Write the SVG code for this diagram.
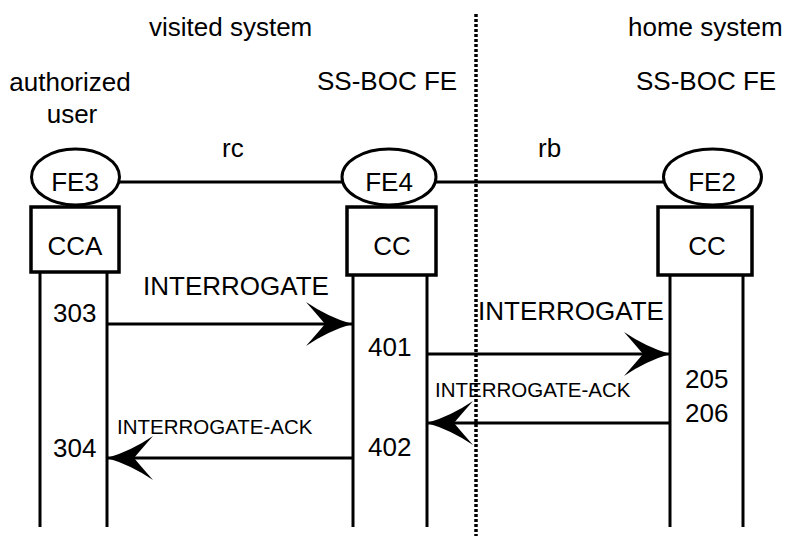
<svg xmlns="http://www.w3.org/2000/svg" width="789" height="536" viewBox="0 0 789 536">
<style>
text{font-family:"Liberation Sans",Arial,sans-serif;fill:#000}
.t{font-size:26px}
.s{font-size:20.5px}
.m{text-anchor:middle}
.b{fill:#fff;stroke:#000;stroke-width:3.5}
.e{fill:#fff;stroke:#000;stroke-width:3}
.l{stroke:#000;stroke-width:3;fill:none}
</style>
<defs>
<marker id="head" markerUnits="userSpaceOnUse" viewBox="-48 -24 50 48" refX="0" refY="0" markerWidth="50" markerHeight="48" orient="auto">
<path d="M0,0 Q-24,-7 -46,-22 Q-32,-6 -27,0 Q-32,6 -46,22 Q-24,7 0,0 Z" fill="#000"/>
</marker>
</defs>
<rect width="789" height="536" fill="#fff"/>
<g id="labels">
<text class="t" x="149" y="36">visited system</text>
<text class="t" x="628" y="36">home system</text>
<text class="t m" x="70" y="91">authorized</text>
<text class="t m" x="72" y="123">user</text>
<text class="t" x="317" y="90">SS-BOC FE</text>
<text class="t" x="636" y="90">SS-BOC FE</text>
<text class="t" x="222" y="157">rc</text>
<text class="t" x="538" y="157">rb</text>
</g>
<g id="boundary">
<line x1="476" y1="14" x2="476" y2="536" stroke="#000" stroke-width="3.5" stroke-dasharray="3 2"/>
</g>
<g id="connectors">
<line class="l" x1="119" y1="182" x2="343" y2="182"/>
<line class="l" x1="435" y1="182" x2="664" y2="182"/>
<line class="l" x1="107" y1="324" x2="352" y2="324" marker-end="url(#head)"/>
<line class="l" x1="427" y1="354" x2="670" y2="354" marker-end="url(#head)"/>
<line class="l" x1="670" y1="423" x2="427" y2="423" marker-end="url(#head)"/>
<line class="l" x1="352" y1="458" x2="107" y2="458" marker-end="url(#head)"/>
</g>
<g id="fe3">
<line class="l" x1="40" y1="272" x2="40" y2="527"/>
<line class="l" x1="107" y1="272" x2="107" y2="527"/>
<rect class="b" x="31" y="207" width="88" height="65"/>
<ellipse class="e" cx="75.5" cy="177" rx="44" ry="28"/>
<text class="t m" x="75" y="191">FE3</text>
<text class="t m" x="75" y="255">CCA</text>
</g>
<g id="fe4">
<line class="l" x1="353" y1="275" x2="353" y2="527"/>
<line class="l" x1="427" y1="275" x2="427" y2="527"/>
<rect class="b" x="347" y="207" width="89" height="68"/>
<ellipse class="e" cx="389" cy="177" rx="47" ry="28"/>
<text class="t m" x="389" y="191">FE4</text>
<text class="t m" x="392" y="255">CC</text>
</g>
<g id="fe2">
<line class="l" x1="670" y1="275" x2="670" y2="527"/>
<line class="l" x1="743" y1="275" x2="743" y2="527"/>
<rect class="b" x="658" y="207" width="94" height="68"/>
<ellipse class="e" cx="712.5" cy="177" rx="49" ry="28"/>
<text class="t m" x="712" y="191">FE2</text>
<text class="t m" x="707" y="255">CC</text>
</g>
<g id="messages">
<text class="t" x="143" y="295">INTERROGATE</text>
<text class="t" x="53" y="322">303</text>
<text class="t" x="478" y="320">INTERROGATE</text>
<text class="t" x="368" y="356">401</text>
<text class="s" x="435" y="397">INTERROGATE-ACK</text>
<text class="t" x="685" y="388">205</text>
<text class="t" x="685" y="422">206</text>
<text class="s" x="117" y="434">INTERROGATE-ACK</text>
<text class="t" x="53" y="457">304</text>
<text class="t" x="368" y="456">402</text>
</g>
</svg>
